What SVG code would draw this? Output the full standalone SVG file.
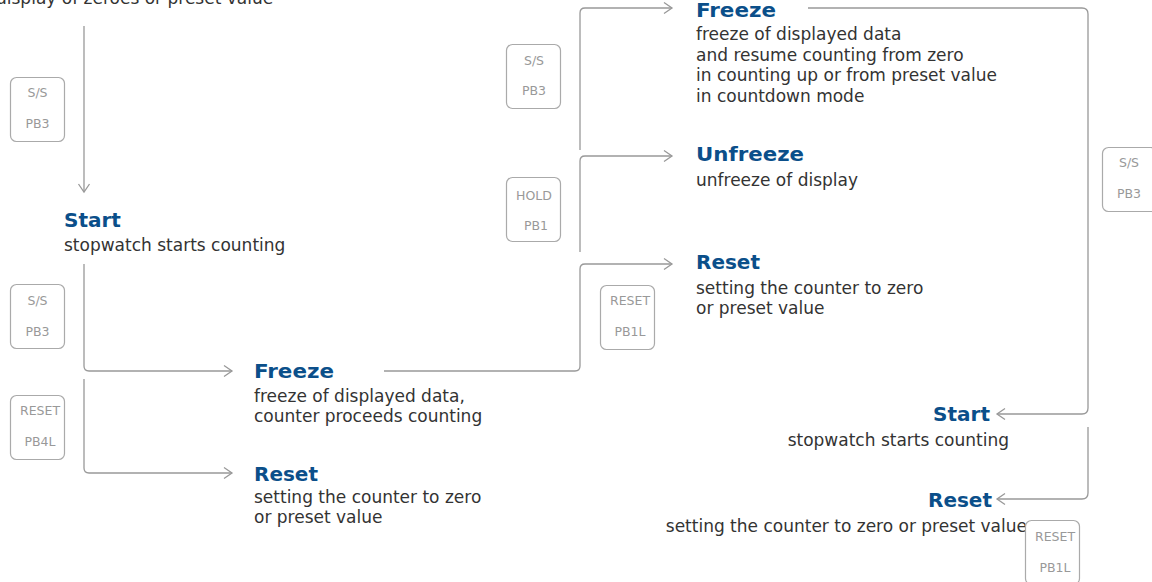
<svg xmlns="http://www.w3.org/2000/svg" width="1152" height="582" viewBox="0 0 1152 582">
<style>
.t{font-family:"DejaVu Sans",sans-serif;font-weight:bold;font-size:20px;fill:#0b4f8a}
.b{font-family:"DejaVu Sans",sans-serif;font-size:17px;fill:#333}
.k{fill:#fff;stroke:#aaa;stroke-width:1.2}
.kt{font-family:"DejaVu Sans",sans-serif;font-size:12.5px;fill:#999;text-anchor:middle}
.c{fill:none;stroke:#999;stroke-width:1.3}
</style>
<defs>
<marker id="ah" markerUnits="userSpaceOnUse" markerWidth="12" markerHeight="14" refX="9" refY="6" orient="auto" viewBox="0 0 12 12">
<path d="M1,0.5 L9,6 L1,11.5" fill="none" stroke="#999" stroke-width="1.3"/>
</marker>
</defs>
<rect width="1152" height="582" fill="#fff"/>
<g id="connectors">
<path class="c" d="M84,26 V192" marker-end="url(#ah)"/>
<path class="c" d="M84,264 V366 Q84,371 89,371 H232" marker-end="url(#ah)"/>
<path class="c" d="M84,379 V468 Q84,473 89,473 H232" marker-end="url(#ah)"/>
<path class="c" d="M384,371 H575 Q580,371 580,366 V269 Q580,264 585,264 H672" marker-end="url(#ah)"/>
<path class="c" d="M580,150 V13 Q580,8 585,8 H672" marker-end="url(#ah)"/>
<path class="c" d="M580,252 V161 Q580,156 585,156 H672" marker-end="url(#ah)"/>
<path class="c" d="M808,8 H1082 Q1088,8 1088,14 V408 Q1088,414 1082,414 H997" marker-end="url(#ah)"/>
<path class="c" d="M1088,427 V493 Q1088,499 1082,499 H997" marker-end="url(#ah)"/>
</g>
<g id="initial"><text class="b" x="-4" y="4">display of zeroes or preset value</text></g>
<g id="key1"><rect class="k" x="10.5" y="77.5" width="54" height="64" rx="6"/><text class="kt" x="37.5" y="97">S/S</text><text class="kt" x="37.5" y="128">PB3</text></g>
<g id="start1"><text class="t" x="64" y="227">Start</text><text class="b" x="64" y="251">stopwatch starts counting</text></g>
<g id="key2"><rect class="k" x="10.5" y="284.5" width="54" height="64" rx="6"/><text class="kt" x="37.5" y="305">S/S</text><text class="kt" x="37.5" y="336">PB3</text></g>
<g id="key3"><rect class="k" x="10.5" y="395.5" width="54" height="64" rx="6"/><text class="kt" x="40" y="415">RESET</text><text class="kt" x="40" y="446">PB4L</text></g>
<g id="freeze1"><text class="t" x="254" y="378" textLength="80" lengthAdjust="spacingAndGlyphs">Freeze</text><text class="b" x="254" y="402">freeze of displayed data,</text><text class="b" x="254" y="422">counter proceeds counting</text></g>
<g id="reset1"><text class="t" x="254" y="481">Reset</text><text class="b" x="254" y="503">setting the counter to zero</text><text class="b" x="254" y="523">or preset value</text></g>
<g id="key4"><rect class="k" x="506.5" y="44.5" width="54" height="64" rx="6"/><text class="kt" x="534" y="65">S/S</text><text class="kt" x="534" y="95">PB3</text></g>
<g id="key5"><rect class="k" x="506.5" y="177.5" width="54" height="64" rx="6"/><text class="kt" x="534" y="200">HOLD</text><text class="kt" x="536" y="230">PB1</text></g>
<g id="key6"><rect class="k" x="600.5" y="285.5" width="54" height="64" rx="6"/><text class="kt" x="630" y="305">RESET</text><text class="kt" x="630" y="336">PB1L</text></g>
<g id="freeze2"><text class="t" x="696" y="17" textLength="80" lengthAdjust="spacingAndGlyphs">Freeze</text><text class="b" x="696" y="40">freeze of displayed data</text><text class="b" x="696" y="60.5">and resume counting from zero</text><text class="b" x="696" y="81">in counting up or from preset value</text><text class="b" x="696" y="101.5">in countdown mode</text></g>
<g id="unfreeze"><text class="t" x="696" y="161" textLength="108" lengthAdjust="spacingAndGlyphs">Unfreeze</text><text class="b" x="696" y="186">unfreeze of display</text></g>
<g id="reset2"><text class="t" x="696" y="269">Reset</text><text class="b" x="696" y="294">setting the counter to zero</text><text class="b" x="696" y="314">or preset value</text></g>
<g id="key7"><rect class="k" x="1102.5" y="147.5" width="54" height="64" rx="6"/><text class="kt" x="1129" y="167">S/S</text><text class="kt" x="1129" y="198">PB3</text></g>
<g id="start2"><text class="t" x="990" y="421" text-anchor="end">Start</text><text class="b" x="1009" y="446" text-anchor="end">stopwatch starts counting</text></g>
<g id="reset3"><text class="t" x="992" y="507" text-anchor="end">Reset</text><text class="b" x="1027" y="532" text-anchor="end">setting the counter to zero or preset value</text></g>
<g id="key8"><rect class="k" x="1025.5" y="520.5" width="54" height="64" rx="6"/><text class="kt" x="1055" y="541">RESET</text><text class="kt" x="1055" y="572">PB1L</text></g>
</svg>
